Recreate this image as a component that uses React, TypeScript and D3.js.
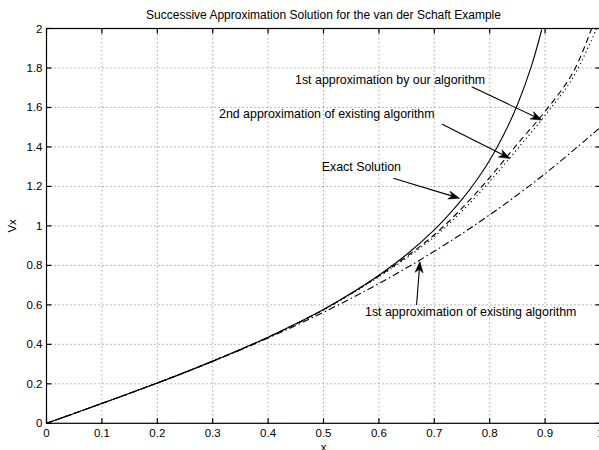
import { useEffect, useRef } from "react";
import * as d3 from "d3";

// exact solution
const exactX = [0, 0.05, 0.1, 0.15, 0.2, 0.25, 0.3, 0.35, 0.4, 0.45, 0.5, 0.55, 0.6, 0.65, 0.7, 0.725, 0.75, 0.775, 0.8, 0.825, 0.85, 0.875, 0.894];
const exactY = [0, 0.05, 0.101, 0.152, 0.204, 0.258, 0.315, 0.374, 0.436, 0.504, 0.577, 0.659, 0.75, 0.855, 0.98, 1.053, 1.134, 1.226, 1.333, 1.46, 1.614, 1.807, 1.995];

// 1st approximation of existing algorithm (dash-dot)
const firstExistX = [0, 0.1, 0.2, 0.3, 0.4, 0.5, 0.6, 0.7, 0.8, 0.9, 1.0];
const firstExistY = [0, 0.1005, 0.204, 0.3135, 0.432, 0.5625, 0.708, 0.8715, 1.056, 1.2645, 1.5];

// 1st approximation by our algorithm (dashed)
const firstOursX = [0, 0.1, 0.2, 0.3, 0.4, 0.5, 0.6, 0.65, 0.7, 0.75, 0.8, 0.85, 0.9, 0.95, 0.984];
const firstOursY = [0, 0.1005, 0.204, 0.315, 0.436, 0.576, 0.746, 0.845, 0.955, 1.09, 1.245, 1.415, 1.58, 1.775, 2.0];

// 2nd approximation of existing algorithm (dotted)
const secondExistX = [0, 0.1, 0.2, 0.3, 0.4, 0.5, 0.6, 0.65, 0.7, 0.75, 0.8, 0.85, 0.9, 0.95, 0.993];
const secondExistY = [0, 0.1005, 0.204, 0.315, 0.435, 0.574, 0.742, 0.838, 0.945, 1.075, 1.225, 1.39, 1.56, 1.75, 2.0];

const xTicks = [0, 0.1, 0.2, 0.3, 0.4, 0.5, 0.6, 0.7, 0.8, 0.9, 1];
const yTicks = [0, 0.2, 0.4, 0.6, 0.8, 1, 1.2, 1.4, 1.6, 1.8, 2];

// annotations: text anchor (left, middle) and arrow from -> tip, in data units
const notes = [
  { text: "1st approximation by our algorithm", tx: 0.4486, ty: 1.739, fx: 0.7675, fy: 1.705, px: 0.894, py: 1.536 },
  { text: "2nd approximation of existing algorithm", tx: 0.3114, ty: 1.567, fx: 0.7134, fy: 1.516, px: 0.8366, py: 1.342 },
  { text: "Exact Solution", tx: 0.4968, ty: 1.3, fx: 0.626, fy: 1.241, px: 0.7455, py: 1.14 },
  { text: "1st approximation of existing algorithm", tx: 0.5749, ty: 0.565, fx: 0.668, fy: 0.599, px: 0.674, py: 0.819 },
];

const W = 599;
const H = 450;
const FONT = "'Liberation Sans', Arial, Helvetica, sans-serif";

export default function App() {
  const svgRef = useRef<SVGSVGElement>(null);

  useEffect(() => {
    if (!svgRef.current) return;
    const svg = d3.select(svgRef.current);
    svg.selectAll("*").remove();

    const x = d3.scaleLinear().domain([0, 1]).range([46.5, 600.5]);
    const y = d3.scaleLinear().domain([0, 2]).range([423.3, 28.5]);
    const [x0, x1] = x.range();
    const [y0, y1] = y.range();

    svg.append("defs").append("clipPath").attr("id", "plot")
      .append("rect").attr("x", x0).attr("y", y1).attr("width", x1 - x0).attr("height", y0 - y1);

    // grid
    const grid = svg.append("g").attr("stroke", "#555").attr("stroke-width", 0.8).attr("stroke-dasharray", "1 3");
    xTicks.slice(1, -1).forEach((t) => {
      grid.append("line").attr("x1", x(t)).attr("x2", x(t)).attr("y1", y0).attr("y2", y1);
    });
    yTicks.slice(1, -1).forEach((t) => {
      grid.append("line").attr("x1", x0).attr("x2", x1).attr("y1", y(t)).attr("y2", y(t));
    });

    // curves
    const line = d3.line<[number, number]>()
      .x((d) => x(d[0]))
      .y((d) => y(d[1]))
      .curve(d3.curveCatmullRom);
    const curves = [
      { xs: exactX, ys: exactY, dash: null },
      { xs: firstExistX, ys: firstExistY, dash: "7 3 1.5 3" },
      { xs: firstOursX, ys: firstOursY, dash: "6 4" },
      { xs: secondExistX, ys: secondExistY, dash: "1.2 3" },
    ];
    const plot = svg.append("g").attr("clip-path", "url(#plot)");
    curves.forEach((c) => {
      const pts = c.xs.map((v, i) => [v, c.ys[i]] as [number, number]);
      const p = plot.append("path")
        .attr("d", line(pts))
        .attr("fill", "none")
        .attr("stroke", "#000")
        .attr("stroke-width", 1.1);
      if (c.dash) p.attr("stroke-dasharray", c.dash);
    });

    // box and ticks
    const axes = svg.append("g").attr("stroke", "#000").attr("stroke-width", 1.2);
    axes.append("rect").attr("x", x0).attr("y", y1).attr("width", x1 - x0).attr("height", y0 - y1).attr("fill", "none");
    const tl = 5;
    xTicks.forEach((t) => {
      axes.append("line").attr("x1", x(t)).attr("x2", x(t)).attr("y1", y0).attr("y2", y0 - tl);
      axes.append("line").attr("x1", x(t)).attr("x2", x(t)).attr("y1", y1).attr("y2", y1 + tl);
    });
    yTicks.forEach((t) => {
      axes.append("line").attr("x1", x0).attr("x2", x0 + tl).attr("y1", y(t)).attr("y2", y(t));
      axes.append("line").attr("x1", x1).attr("x2", x1 - tl).attr("y1", y(t)).attr("y2", y(t));
    });

    const labels = svg.append("g").attr("font-family", FONT).attr("fill", "#000");
    xTicks.forEach((t) => {
      labels.append("text").attr("x", x(t)).attr("y", y0 + 14).attr("text-anchor", "middle")
        .attr("font-size", 11.5).text(String(t));
    });
    yTicks.forEach((t) => {
      labels.append("text").attr("x", x0 - 4).attr("y", y(t)).attr("dy", "0.35em").attr("text-anchor", "end")
        .attr("font-size", 11.5).text(String(t));
    });
    labels.append("text").attr("x", (x0 + x1) / 2).attr("y", 451).attr("text-anchor", "middle")
      .attr("font-size", 11.5).text("x");
    labels.append("text")
      .attr("transform", `translate(16,${(y0 + y1) / 2}) rotate(-90)`)
      .attr("text-anchor", "middle").attr("font-size", 11.5).text("Vx");
    labels.append("text").attr("x", (x0 + x1) / 2).attr("y", 19).attr("text-anchor", "middle")
      .attr("font-size", 12).text("Successive Approximation Solution for the van der Schaft Example");

    // annotations
    const ann = svg.append("g");
    notes.forEach((n) => {
      ann.append("text").attr("x", x(n.tx)).attr("y", y(n.ty)).attr("dy", "0.35em")
        .attr("font-family", FONT).attr("font-size", 12.4).text(n.text);
      const ax = x(n.fx), ay = y(n.fy), bx = x(n.px), by = y(n.py);
      const ang = Math.atan2(by - ay, bx - ax);
      const hl = 11, hw = 4;
      const bxs = bx - hl * Math.cos(ang), bys = by - hl * Math.sin(ang);
      ann.append("line").attr("x1", ax).attr("y1", ay).attr("x2", bx - 3 * Math.cos(ang)).attr("y2", by - 3 * Math.sin(ang))
        .attr("stroke", "#000").attr("stroke-width", 1.1);
      const nx = -Math.sin(ang), ny = Math.cos(ang);
      const notchX = bx - hl * 0.7 * Math.cos(ang), notchY = by - hl * 0.7 * Math.sin(ang);
      ann.append("path")
        .attr("d", `M${bx},${by}L${bxs + nx * hw},${bys + ny * hw}L${notchX},${notchY}L${bxs - nx * hw},${bys - ny * hw}Z`)
        .attr("fill", "#000").attr("stroke", "#000").attr("stroke-width", 0.6);
    });
  }, []);

  return (
    <svg
      ref={svgRef}
      width={W}
      height={H}
      style={{ position: "absolute", left: 0, top: 0, background: "#fff" }}
    />
  );
}
